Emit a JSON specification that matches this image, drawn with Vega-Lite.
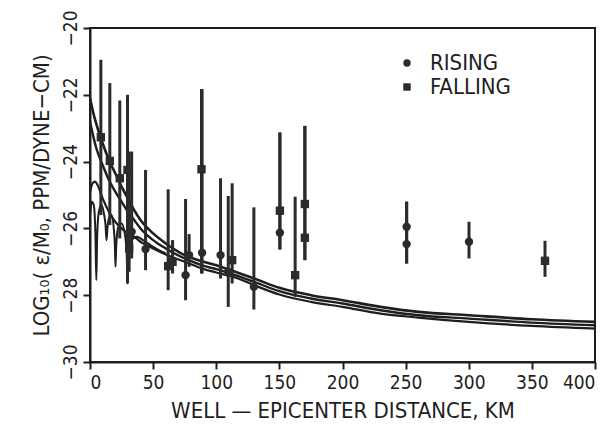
{
  "$schema": "https://vega.github.io/schema/vega-lite/v6.json",
  "width": 505,
  "height": 334,
  "autosize": {"type": "none"},
  "padding": {"left": 90, "top": 28, "right": 21, "bottom": 62},
  "background": "white",
  "config": {
    "view": {"stroke": "#1e1e1e", "strokeWidth": 2},
    "font": "'Liberation Sans Narrow', 'DejaVu Sans Condensed', 'Liberation Sans', sans-serif",
    "axis": {"grid": false, "domainColor": "#1e1e1e", "domainWidth": 2, "tickColor": "#1e1e1e", "tickWidth": 2, "tickSize": 7, "labelColor": "#1e1e1e", "labelFontSize": 19, "titleColor": "#1e1e1e", "titleFontSize": 22, "titleFontWeight": "normal", "labelFont": "'Liberation Sans Narrow', 'DejaVu Sans Condensed', sans-serif", "titleFont": "'Liberation Sans Narrow', 'DejaVu Sans Condensed', sans-serif"}
  },
  "datasets": {
    "curves": [
      {"d": 0, "v": -22.1, "c": "s1"}, {"d": 3, "v": -22.6, "c": "s1"}, {"d": 6, "v": -23.0, "c": "s1"}, {"d": 10, "v": -23.45, "c": "s1"}, {"d": 15, "v": -23.95, "c": "s1"}, {"d": 20, "v": -24.35, "c": "s1"}, {"d": 25, "v": -24.75, "c": "s1"}, {"d": 30, "v": -25.1, "c": "s1"}, {"d": 35, "v": -25.45, "c": "s1"}, {"d": 40, "v": -25.75, "c": "s1"}, {"d": 50, "v": -26.15, "c": "s1"}, {"d": 60, "v": -26.45, "c": "s1"}, {"d": 75, "v": -26.8, "c": "s1"}, {"d": 90, "v": -27.0, "c": "s1"}, {"d": 100, "v": -27.1, "c": "s1"}, {"d": 115, "v": -27.3, "c": "s1"}, {"d": 130, "v": -27.5, "c": "s1"}, {"d": 150, "v": -27.78, "c": "s1"}, {"d": 175, "v": -28.0, "c": "s1"}, {"d": 200, "v": -28.15, "c": "s1"}, {"d": 230, "v": -28.35, "c": "s1"}, {"d": 260, "v": -28.5, "c": "s1"}, {"d": 300, "v": -28.6, "c": "s1"}, {"d": 350, "v": -28.72, "c": "s1"}, {"d": 400, "v": -28.8, "c": "s1"},
      {"d": 0, "v": -22.8, "c": "s2"}, {"d": 5, "v": -23.6, "c": "s2"}, {"d": 10, "v": -24.1, "c": "s2"}, {"d": 15, "v": -24.55, "c": "s2"}, {"d": 20, "v": -24.9, "c": "s2"}, {"d": 25, "v": -25.2, "c": "s2"}, {"d": 30, "v": -25.5, "c": "s2"}, {"d": 35, "v": -25.75, "c": "s2"}, {"d": 40, "v": -26.0, "c": "s2"}, {"d": 50, "v": -26.35, "c": "s2"}, {"d": 60, "v": -26.6, "c": "s2"}, {"d": 75, "v": -26.9, "c": "s2"}, {"d": 90, "v": -27.12, "c": "s2"}, {"d": 100, "v": -27.22, "c": "s2"}, {"d": 115, "v": -27.4, "c": "s2"}, {"d": 130, "v": -27.6, "c": "s2"}, {"d": 150, "v": -27.88, "c": "s2"}, {"d": 175, "v": -28.1, "c": "s2"}, {"d": 200, "v": -28.25, "c": "s2"}, {"d": 230, "v": -28.45, "c": "s2"}, {"d": 260, "v": -28.6, "c": "s2"}, {"d": 300, "v": -28.7, "c": "s2"}, {"d": 350, "v": -28.82, "c": "s2"}, {"d": 400, "v": -28.9, "c": "s2"},
      {"d": 0, "v": -24.9, "c": "s3"}, {"d": 2, "v": -24.65, "c": "s3"}, {"d": 4, "v": -24.6, "c": "s3"}, {"d": 6, "v": -24.7, "c": "s3"}, {"d": 10, "v": -25.1, "c": "s3"}, {"d": 15, "v": -25.5, "c": "s3"}, {"d": 20, "v": -25.8, "c": "s3"}, {"d": 25, "v": -26.0, "c": "s3"}, {"d": 30, "v": -26.15, "c": "s3"}, {"d": 35, "v": -26.25, "c": "s3"}, {"d": 40, "v": -26.4, "c": "s3"}, {"d": 50, "v": -26.6, "c": "s3"}, {"d": 60, "v": -26.78, "c": "s3"}, {"d": 75, "v": -27.0, "c": "s3"}, {"d": 90, "v": -27.22, "c": "s3"}, {"d": 100, "v": -27.32, "c": "s3"}, {"d": 115, "v": -27.47, "c": "s3"}, {"d": 130, "v": -27.7, "c": "s3"}, {"d": 150, "v": -27.98, "c": "s3"}, {"d": 175, "v": -28.2, "c": "s3"}, {"d": 200, "v": -28.35, "c": "s3"}, {"d": 230, "v": -28.55, "c": "s3"}, {"d": 260, "v": -28.67, "c": "s3"}, {"d": 300, "v": -28.8, "c": "s3"}, {"d": 350, "v": -28.92, "c": "s3"}, {"d": 400, "v": -29.0, "c": "s3"},
      {"d": 0, "v": -25.6, "c": "o1"}, {"d": 1.5, "v": -25.2, "c": "o1"}, {"d": 3, "v": -25.3, "c": "o1"}, {"d": 4.3, "v": -26.2, "c": "o1"}, {"d": 5, "v": -27.55, "c": "o1"}, {"d": 5.7, "v": -26.2, "c": "o1"}, {"d": 7, "v": -25.5, "c": "o1"}, {"d": 9, "v": -25.3, "c": "o1"}, {"d": 11, "v": -25.55, "c": "o1"}, {"d": 12.3, "v": -25.9, "c": "o1"}, {"d": 13.1, "v": -26.35, "c": "o1"}, {"d": 13.9, "v": -25.95, "c": "o1"}, {"d": 15.5, "v": -25.65, "c": "o1"}, {"d": 17, "v": -25.6, "c": "o1"}, {"d": 18.7, "v": -25.95, "c": "o1"}, {"d": 19.7, "v": -26.5, "c": "o1"}, {"d": 20.2, "v": -27.15, "c": "o1"}, {"d": 20.8, "v": -26.5, "c": "o1"}, {"d": 22.5, "v": -25.95, "c": "o1"}, {"d": 25, "v": -25.85, "c": "o1"}, {"d": 27.5, "v": -26.15, "c": "o1"}, {"d": 29, "v": -26.7, "c": "o1"}, {"d": 29.7, "v": -27.65, "c": "o1"}, {"d": 30.5, "v": -26.8, "c": "o1"}, {"d": 33, "v": -26.35, "c": "o1"}, {"d": 37, "v": -26.25, "c": "o1"}, {"d": 42, "v": -26.35, "c": "o1"}, {"d": 50, "v": -26.55, "c": "o1"}, {"d": 60, "v": -26.75, "c": "o1"}
    ],
    "points": [
      {"d": 8.6, "v": -23.27, "k": "FALLING", "lo": -25.6, "hi": -20.95},
      {"d": 15.7, "v": -23.98, "k": "FALLING", "lo": -25.9, "hi": -21.65},
      {"d": 23.6, "v": -24.5, "k": "FALLING", "lo": -26.3, "hi": -22.17},
      {"d": 29.7, "v": -24.25, "k": "FALLING", "lo": -27.65, "hi": -22.0},
      {"d": 31, "v": -26.6, "k": "FALLING", "lo": -27.3, "hi": -23.7},
      {"d": 33, "v": -26.1, "k": "RISING", "lo": -26.9, "hi": -23.7},
      {"d": 44, "v": -26.62, "k": "RISING", "lo": -27.25, "hi": -24.25},
      {"d": 61.9, "v": -27.13, "k": "FALLING", "lo": -27.85, "hi": -24.83},
      {"d": 65.4, "v": -27.0, "k": "FALLING", "lo": -27.35, "hi": -26.35},
      {"d": 75.7, "v": -27.4, "k": "RISING", "lo": -28.15, "hi": -25.12},
      {"d": 78.5, "v": -26.8, "k": "RISING", "lo": -27.15, "hi": -26.17},
      {"d": 88.3, "v": -24.23, "k": "FALLING", "lo": -27.35, "hi": -21.83},
      {"d": 88.8, "v": -26.73, "k": "RISING", "lo": -27.35, "hi": -21.83},
      {"d": 103.4, "v": -26.8, "k": "RISING", "lo": -27.5, "hi": -24.5},
      {"d": 109.5, "v": -27.3, "k": "RISING", "lo": -28.35, "hi": -25.03},
      {"d": 112.6, "v": -26.95, "k": "FALLING", "lo": -27.65, "hi": -24.65},
      {"d": 129.8, "v": -27.75, "k": "RISING", "lo": -28.43, "hi": -25.37},
      {"d": 150.4, "v": -25.47, "k": "FALLING", "lo": -26.63, "hi": -23.13},
      {"d": 150.4, "v": -26.13, "k": "RISING", "lo": -26.63, "hi": -23.13},
      {"d": 162.5, "v": -27.4, "k": "FALLING", "lo": -28.05, "hi": -25.05},
      {"d": 170.2, "v": -25.27, "k": "FALLING", "lo": -26.95, "hi": -22.93},
      {"d": 170.2, "v": -26.28, "k": "FALLING", "lo": -26.95, "hi": -22.93},
      {"d": 250.8, "v": -25.95, "k": "RISING", "lo": -27.05, "hi": -25.2},
      {"d": 250.8, "v": -26.47, "k": "RISING", "lo": -27.05, "hi": -25.2},
      {"d": 300.2, "v": -26.4, "k": "RISING", "lo": -26.9, "hi": -25.8},
      {"d": 360.4, "v": -26.97, "k": "FALLING", "lo": -27.45, "hi": -26.37}
    ]
  },
  "layer": [
    {
      "data": {"name": "curves"},
      "mark": {"type": "line", "color": "#1e1e1e", "clip": true, "interpolate": "monotone"},
      "encoding": {
        "x": {"field": "d", "type": "quantitative", "scale": {"domain": [0, 400], "nice": false},
          "axis": {"values": [0, 50, 100, 150, 200, 250, 300, 350, 400], "title": "WELL — EPICENTER DISTANCE, KM", "labelPadding": 4, "titlePadding": 8}},
        "y": {"field": "v", "type": "quantitative", "scale": {"domain": [-30, -20], "nice": false, "zero": false},
          "axis": {"values": [-30, -28, -26, -24, -22, -20], "labelAngle": 270, "labelAlign": "center", "labelBaseline": "bottom", "labelPadding": 3, "title": "LOG₁₀( ε/M₀, PPM/DYNE−CM)", "titlePadding": 8}},
        "detail": {"field": "c"},
        "strokeWidth": {"field": "c", "type": "nominal", "scale": {"domain": ["s1", "s2", "s3", "o1"], "range": [2.6, 2, 1.6, 1.2]}, "legend": null}
      }
    },
    {
      "data": {"name": "points"},
      "mark": {"type": "rule", "color": "#2b2b2b", "strokeWidth": 3},
      "encoding": {
        "x": {"field": "d", "type": "quantitative"},
        "y": {"field": "lo", "type": "quantitative"},
        "y2": {"field": "hi"}
      }
    },
    {
      "data": {"name": "points"},
      "mark": {"type": "point", "filled": true, "color": "#2b2b2b", "opacity": 1},
      "encoding": {
        "x": {"field": "d", "type": "quantitative"},
        "y": {"field": "v", "type": "quantitative"},
        "shape": {"field": "k", "type": "nominal", "scale": {"domain": ["RISING", "FALLING"], "range": ["circle", "square"]},
          "legend": {"title": null, "orient": "none", "legendX": 306, "legendY": 24, "padding": 0, "labelFontSize": 22, "labelColor": "#1e1e1e", "labelOffset": 12, "rowPadding": 2, "symbolSize": 55, "symbolFillColor": "#2b2b2b", "symbolStrokeWidth": 0, "labelFont": "'Liberation Sans Narrow', 'DejaVu Sans Condensed', sans-serif"}},
        "size": {"value": 70}
      }
    }
  ]
}
